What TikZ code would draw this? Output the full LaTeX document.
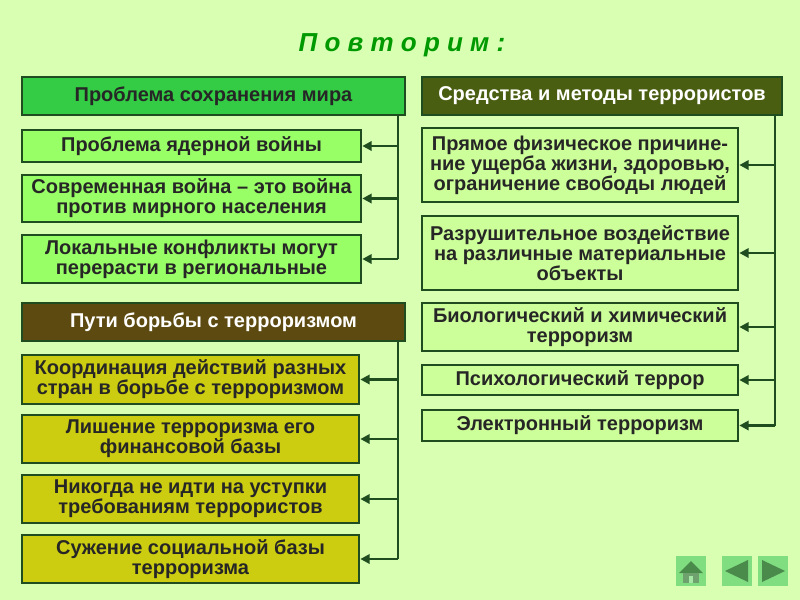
\documentclass[tikz,border=0pt]{standalone}
\usepackage{fontspec}
\setmainfont{Liberation Sans}
\usetikzlibrary{arrows.meta}
\definecolor{bg}{HTML}{D9FFB3}
\definecolor{hgreen}{HTML}{33CC44}
\definecolor{lgreen}{HTML}{99FF66}
\definecolor{hbrown}{HTML}{5C4A10}
\definecolor{olive}{HTML}{CCCC11}
\definecolor{hdark}{HTML}{4A5E12}
\definecolor{pale}{HTML}{CCFF99}
\definecolor{lineg}{HTML}{1F4D1F}
\definecolor{btn}{HTML}{80DD80}
\definecolor{btnd}{HTML}{4A8A4A}
\newdimen\px \px=0.75pt
\begin{document}
\begin{tikzpicture}[x=0.75pt,y=-0.75pt,
 box/.style={draw=lineg,line width=2pt,font=\fontsize{15}{15}\selectfont\bfseries,text=black!85,align=center,inner sep=0pt},
 arr/.style={draw=lineg,line width=2pt,-{Triangle[length=7pt,width=7pt]}},
 ln/.style={draw=lineg,line width=2pt}]
\useasboundingbox (0,0) rectangle (800,600);
\fill[bg] (0,0) rectangle (800,600);
\node[font=\fontsize{19.5}{20}\selectfont\bfseries\itshape,text=green!60!black] (title) at (402,45) {П о в т о р и м :};
% left top
\node[box,fill=hgreen,minimum width=383\px,minimum height=38\px] (h1) at (213.5,96) {Проблема сохранения мира};
\node[box,fill=lgreen,minimum width=339\px,minimum height=32\px] (a1) at (191.5,146) {Проблема ядерной войны};
\node[box,fill=lgreen,minimum width=339\px,minimum height=47\px] (a2) at (191.5,198.5) {Современная война – это война\\против мирного населения};
\node[box,fill=lgreen,minimum width=339\px,minimum height=48\px] (a3) at (191.5,259) {Локальные конфликты могут\\перерасти в региональные};
\coordinate (c1) at (398,115); \coordinate (c1e) at (398,259);
\draw[ln] (c1) -- (c1e);
\foreach \n in {a1,a2,a3} \draw[arr] (398,0|-\n.east) -- (\n.east);
% left bottom
\node[box,fill=hbrown,text=white,minimum width=383\px,minimum height=38\px] (h2) at (213.5,322) {Пути борьбы с терроризмом};
\node[box,fill=olive,minimum width=337\px,minimum height=49\px] (b1) at (190.5,379.5) {Координация действий разных\\стран в борьбе с терроризмом};
\node[box,fill=olive,minimum width=337\px,minimum height=48\px] (b2) at (190.5,439) {Лишение терроризма его\\финансовой базы};
\node[box,fill=olive,minimum width=337\px,minimum height=48\px] (b3) at (190.5,499) {Никогда не идти на уступки\\требованиям террористов};
\node[box,fill=olive,minimum width=337\px,minimum height=48\px] (b4) at (190.5,559) {Сужение социальной базы\\терроризма};
\coordinate (c2) at (398,341); \coordinate (c2e) at (398,559);
\draw[ln] (c2) -- (c2e);
\foreach \n in {b1,b2,b3,b4} \draw[arr] (398,0|-\n.east) -- (\n.east);
% right
\node[box,fill=hdark,text=white,minimum width=360\px,minimum height=38\px] (h3) at (602,96) {Средства и методы террористов};
\node[box,fill=pale,minimum width=316\px,minimum height=74\px] (r1) at (580,165) {Прямое физическое причине-\\ние ущерба жизни, здоровью,\\ограничение свободы людей};
\node[box,fill=pale,minimum width=316\px,minimum height=74\px] (r2) at (580,253) {Разрушительное воздействие\\на различные материальные\\объекты};
\node[box,fill=pale,minimum width=316\px,minimum height=48\px] (r3) at (580,327) {Биологический и химический\\терроризм};
\node[box,fill=pale,minimum width=316\px,minimum height=30\px] (r4) at (580,380) {Психологический террор};
\node[box,fill=pale,minimum width=316\px,minimum height=31\px] (r5) at (580,425.5) {Электронный терроризм};
\coordinate (c3) at (775,115); \coordinate (c3e) at (775,425.5);
\draw[ln] (c3) -- (c3e);
\foreach \n in {r1,r2,r3,r4,r5} \draw[arr] (775,0|-\n.east) -- (\n.east);
% buttons
\node[fill=btn,minimum size=30\px,inner sep=0] (home) at (691,571) {};
\fill[btnd] (679,573) -- (691,561) -- (703,573) -- cycle;
\fill[btnd!80] (683,573) rectangle (699,583);
\fill[btn!70!white] (689,576) rectangle (693,583);
\node[fill=btn,minimum size=30\px,inner sep=0] (prev) at (737,571) {};
\fill[btnd] (725,571) -- (748,560) -- (748,582) -- cycle;
\node[fill=btn,minimum size=30\px,inner sep=0] (next) at (773,571) {};
\fill[btnd] (785,571) -- (762,560) -- (762,582) -- cycle;
\end{tikzpicture}
\end{document}
